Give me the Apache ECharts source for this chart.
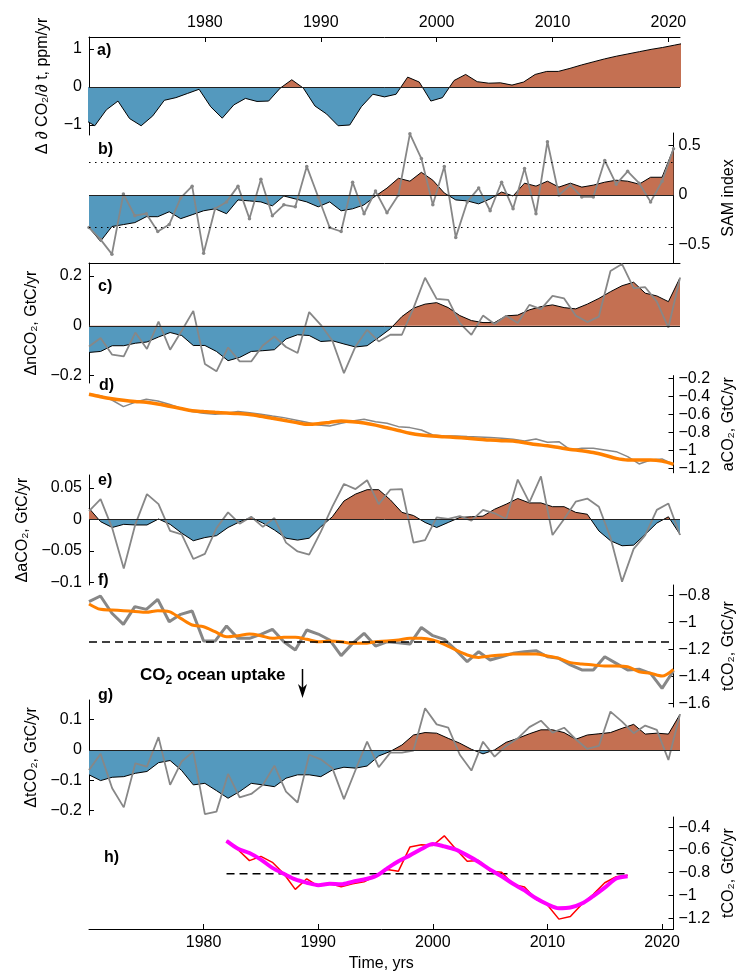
<!DOCTYPE html>
<html><head><meta charset="utf-8">
<script src="https://cdn.jsdelivr.net/npm/echarts@6/dist/echarts.min.js"></script>
<style>html,body{margin:0;padding:0;background:#fff}#c{width:745px;height:973px}</style>
</head><body><div id="c"></div><script>
// ---------------- DATA ----------------
const years = [1970,1971,1972,1973,1974,1975,1976,1977,1978,1979,1980,1981,1982,1983,1984,1985,1986,1987,1988,1989,1990,1991,1992,1993,1994,1995,1996,1997,1998,1999,2000,2001,2002,2003,2004,2005,2006,2007,2008,2009,2010,2011,2012,2013,2014,2015,2016,2017,2018,2019,2020,2021];
const yearsMid = [1969.5,1970.5,1971.5,1972.5,1973.5,1974.5,1975.5,1976.5,1977.5,1978.5,1979.5,1980.5,1981.5,1982.5,1983.5,1984.5,1985.5,1986.5,1987.5,1988.5,1989.5,1990.5,1991.5,1992.5,1993.5,1994.5,1995.5,1996.5,1997.5,1998.5,1999.5,2000.5,2001.5,2002.5,2003.5,2004.5,2005.5,2006.5,2007.5,2008.5,2009.5,2010.5,2011.5,2012.5,2013.5,2014.5,2015.5,2016.5,2017.5,2018.5,2019.5,2020.5,2021.5];
const yearsH = [1982,1983,1984,1985,1986,1987,1988,1989,1990,1991,1992,1993,1994,1995,1996,1997,1998,1999,2000,2001,2002,2003,2004,2005,2006,2007,2008,2009,2010,2011,2012,2013,2014,2015,2016,2017];
const xTicks = [1980,1990,2000,2010,2020];

// a) CO2 growth-rate anomaly (ppm/yr), mid-year
const aGrowth = [-0.84,-1.02,-0.60,-0.37,-0.83,-1.02,-0.76,-0.35,-0.28,-0.17,-0.06,-0.52,-0.82,-0.47,-0.30,-0.38,-0.37,-0.03,0.19,-0.03,-0.50,-0.71,-1.02,-1.00,-0.52,-0.19,-0.26,-0.19,0.26,0.13,-0.37,-0.28,0.17,0.33,0.14,0.10,0.11,0.05,0.13,0.33,0.41,0.41,0.49,0.58,0.66,0.74,0.81,0.87,0.93,0.99,1.04,1.10,1.16];
// b) SAM index
const bSmooth = [-0.33,-0.47,-0.32,-0.30,-0.28,-0.22,-0.22,-0.17,-0.24,-0.20,-0.16,-0.14,-0.19,-0.05,-0.06,-0.07,-0.11,-0.01,-0.04,-0.07,-0.12,-0.07,-0.16,-0.14,-0.10,-0.01,0.07,0.17,0.14,0.23,0.15,0.02,-0.05,-0.06,-0.09,-0.04,0.03,-0.01,0.12,0.09,0.14,0.08,0.12,0.08,0.10,0.13,0.15,0.14,0.11,0.18,0.18,0.47];
const bSAM = [-0.33,-0.45,-0.60,0.01,-0.21,-0.19,-0.37,-0.30,-0.03,0.09,-0.59,-0.14,-0.07,0.09,-0.24,0.16,-0.21,-0.10,-0.12,0.29,-0.02,-0.33,-0.37,0.13,-0.19,0.04,-0.18,0.00,0.62,0.37,-0.10,0.29,-0.43,-0.07,0.07,-0.16,0.13,-0.14,0.27,-0.19,0.54,0.00,0.10,-0.02,-0.02,0.35,0.11,0.24,0.12,-0.07,0.14,0.47];
const bThreshold = [0.33, -0.33];
// c) delta nCO2
const cSmooth = [-0.107,-0.103,-0.08,-0.08,-0.07,-0.065,-0.045,-0.027,-0.039,-0.079,-0.079,-0.103,-0.14,-0.127,-0.103,-0.10,-0.096,-0.053,-0.036,-0.039,-0.063,-0.06,-0.073,-0.085,-0.08,-0.047,-0.012,0.037,0.071,0.087,0.093,0.073,0.041,0.021,0.013,0.013,0.04,0.043,0.064,0.077,0.084,0.073,0.068,0.087,0.11,0.137,0.161,0.175,0.131,0.12,0.097,0.193];
const cAnnual = [-0.083,-0.049,-0.116,-0.123,-0.027,-0.093,0.017,-0.096,-0.02,0.06,-0.153,-0.183,-0.087,-0.143,-0.143,-0.079,-0.043,-0.085,-0.109,0.055,0.004,-0.06,-0.19,-0.083,-0.016,-0.063,-0.036,-0.036,0.071,0.193,0.108,0.104,0.011,-0.036,0.041,0.007,0.04,0.011,0.084,0.067,0.12,0.11,0.041,0.015,0.037,0.22,0.248,0.151,0.155,0.097,-0.007,0.193];
// d) aCO2
const dAnnual = [-0.378,-0.393,-0.441,-0.515,-0.467,-0.433,-0.452,-0.489,-0.533,-0.57,-0.589,-0.6,-0.589,-0.57,-0.582,-0.6,-0.619,-0.637,-0.663,-0.689,-0.719,-0.73,-0.7,-0.674,-0.656,-0.682,-0.7,-0.737,-0.748,-0.774,-0.83,-0.841,-0.841,-0.848,-0.852,-0.859,-0.867,-0.878,-0.896,-0.874,-0.911,-0.904,-0.996,-0.978,-0.978,-0.996,-1.015,-1.07,-1.152,-1.107,-1.096,-1.156];
const dSmooth = [-0.378,-0.405,-0.428,-0.445,-0.458,-0.467,-0.485,-0.51,-0.535,-0.56,-0.57,-0.578,-0.585,-0.592,-0.603,-0.622,-0.644,-0.667,-0.69,-0.711,-0.705,-0.69,-0.674,-0.682,-0.697,-0.72,-0.75,-0.78,-0.81,-0.83,-0.842,-0.85,-0.857,-0.866,-0.876,-0.886,-0.893,-0.897,-0.915,-0.935,-0.95,-0.97,-0.99,-1.005,-1.025,-1.055,-1.09,-1.107,-1.107,-1.107,-1.12,-1.156];
// e) delta aCO2
const eSmooth = [0.0175,-0.0037,-0.013,-0.008,-0.009,-0.009,0.0005,-0.008,-0.022,-0.034,-0.029,-0.026,-0.013,-0.004,0.003,-0.006,-0.017,-0.030,-0.033,-0.030,-0.012,0.004,0.029,0.040,0.047,0.047,0.031,0.011,0.006,-0.005,-0.013,-0.005,0.003,0.004,0.005,0.016,0.024,0.033,0.026,0.026,0.020,0.020,0.011,0.008,-0.0185,-0.034,-0.042,-0.041,-0.024,-0.006,0.004,-0.024];
const eAnnual = [0.013,0.032,-0.014,-0.078,-0.008,0.040,0.024,-0.0185,-0.024,-0.063,-0.055,-0.014,0.011,-0.007,0.004,-0.012,0.002,-0.037,-0.051,-0.056,-0.020,0.020,0.056,0.048,0.062,0.024,0.047,0.048,-0.037,-0.033,0.003,0.0005,0.005,-0.002,0.015,0.0095,0.0005,0.063,0.027,0.068,-0.025,0.0005,0.028,0.033,0.020,-0.029,-0.099,-0.047,-0.025,0.015,0.025,-0.025];
// f) tCO2
const fAnnual = [-0.844,-0.802,-0.93,-1.012,-0.881,-0.901,-0.827,-0.993,-0.938,-0.913,-1.136,-1.136,-1.024,-1.116,-1.116,-1.086,-1.049,-1.141,-1.202,-1.054,-1.084,-1.128,-1.244,-1.153,-1.079,-1.173,-1.141,-1.148,-1.158,-1.035,-1.096,-1.123,-1.202,-1.289,-1.215,-1.276,-1.252,-1.227,-1.215,-1.207,-1.252,-1.264,-1.313,-1.35,-1.35,-1.252,-1.301,-1.35,-1.345,-1.375,-1.486,-1.356];
const fSmooth = [-0.861,-0.901,-0.906,-0.911,-0.917,-0.923,-0.911,-0.918,-0.968,-1.017,-1.03,-1.067,-1.104,-1.096,-1.084,-1.096,-1.116,-1.108,-1.108,-1.123,-1.141,-1.136,-1.141,-1.153,-1.153,-1.141,-1.136,-1.128,-1.116,-1.116,-1.128,-1.16,-1.202,-1.239,-1.257,-1.247,-1.239,-1.232,-1.232,-1.232,-1.247,-1.264,-1.296,-1.306,-1.313,-1.321,-1.321,-1.326,-1.363,-1.375,-1.395,-1.345];
const fMean = -1.14;
// g) delta tCO2
const gSmooth = [-0.082,-0.101,-0.09,-0.088,-0.077,-0.071,-0.042,-0.035,-0.068,-0.115,-0.11,-0.134,-0.159,-0.137,-0.11,-0.115,-0.121,-0.093,-0.082,-0.082,-0.088,-0.066,-0.057,-0.06,-0.053,-0.02,-0.005,0.016,0.049,0.057,0.055,0.038,0.022,0.002,-0.013,0.0,0.025,0.038,0.053,0.066,0.066,0.057,0.035,0.049,0.053,0.057,0.071,0.084,0.052,0.055,0.052,0.117];
const gAnnual = [-0.066,-0.013,-0.126,-0.189,-0.044,-0.055,0.042,-0.115,-0.038,-0.005,-0.211,-0.203,-0.079,-0.156,-0.145,-0.115,-0.052,-0.137,-0.173,-0.016,-0.031,-0.06,-0.162,-0.066,0.027,-0.057,-0.009,-0.009,-0.002,0.137,0.084,0.073,-0.016,-0.068,0.027,-0.022,0.013,0.038,0.075,0.096,0.057,0.073,0.035,0.003,0.013,0.126,0.093,0.055,0.080,0.066,-0.033,0.117];
// h) tCO2 (1982-2017)
const hAnnual = [-0.52,-0.598,-0.694,-0.657,-0.709,-0.81,-0.947,-0.854,-0.918,-0.895,-0.924,-0.898,-0.88,-0.831,-0.773,-0.787,-0.575,-0.554,-0.561,-0.476,-0.592,-0.70,-0.694,-0.787,-0.796,-0.903,-0.927,-1.034,-1.084,-1.209,-1.186,-1.078,-0.991,-0.889,-0.836,-0.822];
const hSmooth = [-0.52,-0.589,-0.627,-0.685,-0.758,-0.81,-0.86,-0.889,-0.91,-0.898,-0.903,-0.88,-0.86,-0.831,-0.764,-0.70,-0.648,-0.592,-0.548,-0.569,-0.598,-0.648,-0.706,-0.773,-0.831,-0.898,-0.956,-1.026,-1.078,-1.113,-1.107,-1.072,-1.006,-0.932,-0.851,-0.831];
const hMean = -0.81;

// tick labels per panel
const ticksA = [-1,0,1], ticksB = [-0.5,0,0.5], ticksC = [-0.2,0,0.2], ticksD = [-1.2,-1,-0.8,-0.6,-0.4,-0.2];
const ticksE = [-0.1,-0.05,0,0.05], ticksF = [-1.6,-1.4,-1.2,-1,-0.8], ticksG = [-0.2,-0.1,0,0.1], ticksH = [-1.2,-1,-0.8,-0.6,-0.4];

// ---------------- STYLE / LAYOUT ----------------
const FONT = '"Liberation Sans", Arial, Helvetica, sans-serif';
const BLUE = '#5499BE', RED = '#C47052', GRAY = '#878787', ORANGE = '#FF8000';
const X0 = 1970, X1 = 2021, GL = 89, GR = 65;
const fmt = v => String(v).replace('-', '\u2212');
const fmtYear = v => String(Math.round(v));

const grids = [], xAxes = [], yAxes = [], series = [], visualMaps = [];

function addPanel(p) {
  const gi = grids.length;
  const scale = (p.p2 - p.p1) / (p.v1 - p.v2);
  const max = p.v1 + (p.p1 - p.top) / scale;
  const min = p.v1 - (p.bottom - p.p1) / scale;
  grids.push({left: GL, right: GR, top: p.top, height: p.bottom - p.top});
  const xa = {type: 'value', gridIndex: gi, min: X0, max: X1, show: !!p.xShow,
    position: p.xPos || 'bottom', splitLine: {show: false},
    axisLine: {show: true, onZero: false, lineStyle: {color: '#000', width: 1}},
    axisTick: {show: !!p.xTicks, inside: true, length: 5, customValues: xTicks, lineStyle: {color: '#000'}},
    axisLabel: {show: !!p.xTicks, customValues: xTicks, formatter: fmtYear, fontSize: 16, color: '#000', fontFamily: FONT, margin: p.xMargin || 6}};
  if (p.xName) Object.assign(xa, {name: p.xName, nameLocation: 'middle', nameGap: 27,
    nameTextStyle: {fontSize: 16, color: '#000', fontFamily: FONT}});
  xAxes.push(xa);
  yAxes.push({type: 'value', gridIndex: gi, min: min, max: max, position: p.side,
    splitLine: {show: false},
    axisLine: {show: true, onZero: false, lineStyle: {color: '#000', width: 1}},
    axisTick: {show: true, inside: true, length: 5, customValues: p.ticks, lineStyle: {color: '#000'}},
    axisLabel: {customValues: p.ticks, formatter: fmt, fontSize: 16, color: '#000', fontFamily: FONT, margin: p.side === 'left' ? 7 : 5},
    name: p.name, nameLocation: 'middle', nameRotate: 90, nameGap: p.nameGap,
    nameTextStyle: {fontSize: 16, color: '#000', fontFamily: FONT}});
  return gi;
}

function pairs(xs, ys) { return xs.map((x, i) => [x, ys[i]]); }

function areaSeries(gi, xs, ys, extraMarks) {
  const si = series.length;
  const marks = [{yAxis: 0, lineStyle: {type: 'solid', color: '#222', width: 1}}].concat(extraMarks || []);
  series.push({type: 'line', xAxisIndex: gi, yAxisIndex: gi, data: pairs(xs, ys), showSymbol: false, symbol: 'none',
    lineStyle: {color: '#000', width: 1}, areaStyle: {opacity: 1}, z: 2, clip: true,
    markLine: {silent: true, symbol: 'none', label: {show: false}, animation: false, data: marks}});
  visualMaps.push({type: 'piecewise', show: false, seriesIndex: si, dimension: 1,
    pieces: [{gte: -10, lt: 0, color: BLUE}, {gte: 0, lte: 10, color: RED}]});
}

function plainLine(gi, xs, ys, color, width, opts) {
  series.push(Object.assign({type: 'line', xAxisIndex: gi, yAxisIndex: gi, data: pairs(xs, ys), showSymbol: false, symbol: 'none',
    lineStyle: {color: color, width: width}, itemStyle: {color: color}, z: 3, clip: false}, opts || {}));
}

// a)
let g = addPanel({top: 37, bottom: 135, v1: 1, p1: 49, v2: -1, p2: 125, side: 'left', ticks: ticksA,
  name: '\u0394 \u2202 CO\u2082/\u2202 t, ppm/yr', nameGap: 38, xShow: true, xPos: 'top', xTicks: true, xMargin: 6});
areaSeries(g, yearsMid, aGrowth);
// b)
g = addPanel({top: 133, bottom: 263, v1: 0.5, p1: 145.7, v2: -0.5, p2: 244.3, side: 'right', ticks: ticksB,
  name: 'SAM index', nameGap: 30});
areaSeries(g, years, bSmooth, bThreshold.map(v => ({yAxis: v, lineStyle: {type: [1.5, 4.5], color: '#000', width: 1.2}})));
plainLine(g, years, bSAM, GRAY, 1.8, {showSymbol: true, symbol: 'circle', symbolSize: 3.5});
// c)
g = addPanel({top: 263, bottom: 383, v1: 0.2, p1: 276, v2: -0.2, p2: 375.6, side: 'left', ticks: ticksC,
  name: '\u0394nCO\u2082, GtC/yr', nameGap: 43, xShow: true, xPos: 'top'});
areaSeries(g, years, cSmooth);
plainLine(g, years, cAnnual, GRAY, 1.8);
// d)
g = addPanel({top: 375.6, bottom: 472.8, v1: -0.2, p1: 378.3, v2: -1.2, p2: 468.3, side: 'right', ticks: ticksD,
  name: 'aCO\u2082, GtC/yr', nameGap: 43});
plainLine(g, years, dAnnual, GRAY, 1.5);
plainLine(g, years, dSmooth, ORANGE, 3.5, {smooth: 0.3, z: 4});
// e)
g = addPanel({top: 475, bottom: 585, v1: 0.05, p1: 487.8, v2: -0.05, p2: 550.8, side: 'left', ticks: ticksE,
  name: '\u0394aCO\u2082, GtC/yr', nameGap: 57});
areaSeries(g, years, eSmooth);
plainLine(g, years, eAnnual, GRAY, 1.8);
// f)
g = addPanel({top: 585, bottom: 707, v1: -0.8, p1: 595.7, v2: -1.4, p2: 676.7, side: 'right', ticks: ticksF,
  name: 'tCO\u2082, GtC/yr', nameGap: 45});
plainLine(g, years, fAnnual, GRAY, 3, {markLine: {silent: true, symbol: 'none', label: {show: false}, animation: false,
  data: [{yAxis: fMean, lineStyle: {type: [8, 5], color: '#000', width: 1.5}}]}});
plainLine(g, years, fSmooth, ORANGE, 3, {smooth: 0.3, z: 4});
// g)
g = addPanel({top: 700, bottom: 815, v1: 0.1, p1: 719.5, v2: -0.1, p2: 780.3, side: 'left', ticks: ticksG,
  name: '\u0394tCO\u2082, GtC/yr', nameGap: 36});
areaSeries(g, years, gSmooth);
plainLine(g, years, gAnnual, GRAY, 1.8);
// h)
g = addPanel({top: 817, bottom: 930, v1: -0.4, p1: 827.3, v2: -1.2, p2: 919, side: 'right', ticks: ticksH,
  name: 'tCO\u2082, GtC/yr', nameGap: 45, xShow: true, xPos: 'bottom', xTicks: true, xName: 'Time, yrs'});
plainLine(g, [yearsH[0], yearsH[yearsH.length - 1]], [hMean, hMean], '#000', 1.5, {lineStyle: {color: '#000', width: 1.5, type: [8, 5]}});
plainLine(g, yearsH, hAnnual, '#FF0000', 1.5);
plainLine(g, yearsH, hSmooth, '#FF00FF', 4, {smooth: 0.3, z: 4});

// panel letters and annotation
const letters = [['a)', 97, 52], ['b)', 98, 151], ['c)', 98, 288], ['d)', 99, 387], ['e)', 98, 482], ['f)', 98, 582], ['g)', 98, 697], ['h)', 104, 859]];
const graphic = letters.map(([t, x, y]) => ({type: 'text', left: x, top: y - 9, z: 10,
  style: {text: t, fontSize: 16, fontWeight: 'bold', fontFamily: FONT, fill: '#000'}}));
graphic.push({type: 'text', left: 140, top: 667, z: 10,
  style: {text: 'CO{s|2} ocean uptake', fontSize: 17, fontWeight: 'bold', fontFamily: FONT, fill: '#000',
    rich: {s: {fontSize: 12, fontWeight: 'bold', fontFamily: FONT, padding: [11, 0, 0, 0]}}}});
graphic.push({type: 'line', z: 10, shape: {x1: 302.5, y1: 669, x2: 302.5, y2: 690}, style: {stroke: '#000', lineWidth: 1.5}});
graphic.push({type: 'polygon', z: 10, shape: {points: [[298, 684], [302.5, 698], [307, 684], [302.5, 688]]}, style: {fill: '#000'}});

const chart = echarts.init(document.getElementById('c'), null, {renderer: 'canvas'});
chart.setOption({animation: false, backgroundColor: '#fff', textStyle: {fontFamily: FONT},
  grid: grids, xAxis: xAxes, yAxis: yAxes, series: series, visualMap: visualMaps, graphic: graphic});
</script></body></html>
